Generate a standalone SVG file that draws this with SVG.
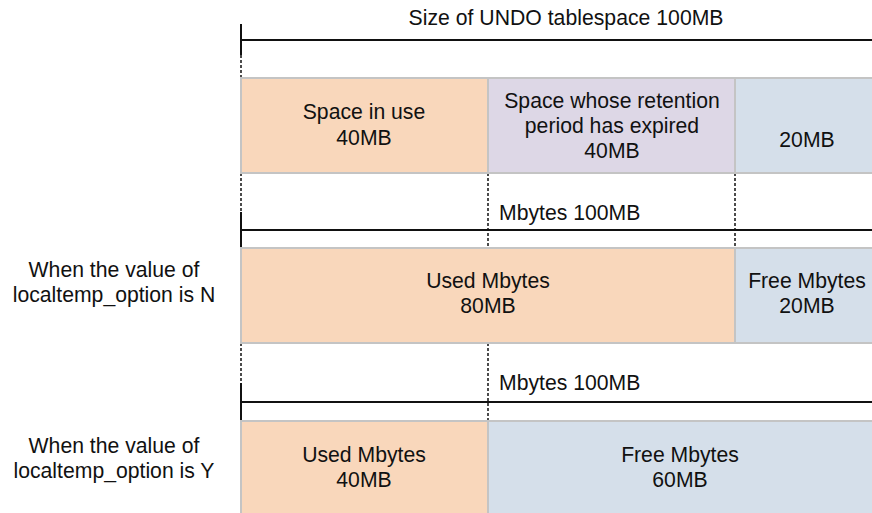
<svg xmlns="http://www.w3.org/2000/svg" width="872" height="513" viewBox="0 0 872 513">
<style>
text{font-family:"Liberation Sans",Arial,sans-serif;font-size:21.2px;fill:#111;}
.c{text-anchor:middle;}
.or{fill:#f9d7bb;stroke:#c4c4c4;stroke-width:2;}
.pu{fill:#ddd7e6;stroke:#c4c4c4;stroke-width:2;}
.bl{fill:#d5dfea;stroke:#c4c4c4;stroke-width:2;}
.m{stroke:#111;stroke-width:2;fill:none;}
.d{stroke:#111;stroke-width:1.5;stroke-dasharray:3 2;fill:none;}
</style>
<rect width="872" height="513" fill="#fff"/>
<g id="connectors">
<path class="m" d="M241,24V55 M241,40H872"/>
<path class="m" d="M241,212V248 M241,230H872"/>
<path class="m" d="M241,383V421 M241,402H872"/>
<path class="d" d="M241,55V78 M241,173V212 M488,173V248 M735,173V248 M241,343V383 M488,343V421"/>
</g>
<g id="title"><text class="c" x="566" y="25" textLength="315" lengthAdjust="spacing">Size of UNDO tablespace 100MB</text></g>
<g id="row1-used"><rect class="or" x="241" y="78" width="247" height="95"/><text class="c" x="364" y="119">Space in use</text><text class="c" x="364" y="145">40MB</text></g>
<g id="row1-expired"><rect class="pu" x="488" y="78" width="247" height="95"/><text class="c" x="612" y="108">Space whose retention</text><text class="c" x="612" y="133">period has expired</text><text class="c" x="612" y="158">40MB</text></g>
<g id="row1-free"><rect class="bl" x="735" y="78" width="150" height="95"/><text class="c" x="807" y="147">20MB</text></g>
<g id="label2"><text x="499" y="220">Mbytes 100MB</text></g>
<g id="labelN"><text class="c" x="114" y="277">When the value of</text><text class="c" x="114" y="302">localtemp_option is N</text></g>
<g id="row2-used"><rect class="or" x="241" y="248" width="494" height="95"/><text class="c" x="488" y="288">Used Mbytes</text><text class="c" x="488" y="313">80MB</text></g>
<g id="row2-free"><rect class="bl" x="735" y="248" width="150" height="95"/><text class="c" x="807" y="288">Free Mbytes</text><text class="c" x="807" y="313">20MB</text></g>
<g id="label3"><text x="499" y="390">Mbytes 100MB</text></g>
<g id="labelY"><text class="c" x="114" y="453">When the value of</text><text class="c" x="114" y="478">localtemp_option is Y</text></g>
<g id="row3-used"><rect class="or" x="241" y="421" width="247" height="100"/><text class="c" x="364" y="462">Used Mbytes</text><text class="c" x="364" y="487">40MB</text></g>
<g id="row3-free"><rect class="bl" x="488" y="421" width="397" height="100"/><text class="c" x="680" y="462">Free Mbytes</text><text class="c" x="680" y="487">60MB</text></g>
</svg>
